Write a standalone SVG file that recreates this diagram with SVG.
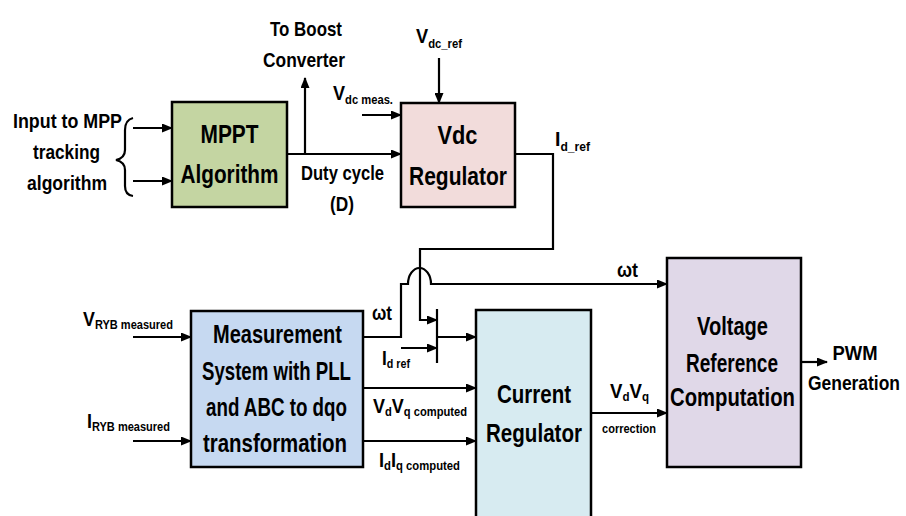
<svg xmlns="http://www.w3.org/2000/svg" width="906" height="516" viewBox="0 0 906 516">
<style>
text{font-family:"Liberation Sans",Arial,sans-serif;font-weight:bold;fill:#000}
.box{stroke:#000;stroke-width:2.5}
.big{font-size:25px;text-anchor:middle}
.lbl{font-size:21px}
.sub{font-size:13px}
.ln{fill:none;stroke:#000;stroke-width:2.2}
.ar{marker-end:url(#ah)}
</style>
<defs>
<marker id="ah" markerUnits="userSpaceOnUse" markerWidth="11" markerHeight="9" refX="10" refY="4.5" orient="auto">
<path d="M0,0 L11,4.5 L0,9 z" fill="#000"/>
</marker>
</defs>
<rect width="906" height="516" fill="#fff"/>

<g id="connectors">
<line class="ln ar" x1="133" y1="128" x2="172" y2="128"/>
<line class="ln ar" x1="133" y1="181" x2="172" y2="181"/>
<path class="ln" d="M133,118 Q125,120 125,130 V150 Q125,158 116,160 Q125,162 125,170 V186 Q125,195 133,196"/>
<line class="ln ar" x1="287" y1="154" x2="401" y2="154"/>
<line class="ln ar" x1="305" y1="154" x2="305" y2="78"/>
<line class="ln ar" x1="362" y1="115" x2="401" y2="115"/>
<line class="ln ar" x1="439" y1="58" x2="439" y2="103"/>
<path class="ln ar" d="M515,154 H553 V249 H420 V320 H437"/>
<path class="ln ar" d="M363,337 H401 V284 H408 A11.5,16 0 0 1 431,284 H667"/>
<line class="ln ar" x1="401" y1="348" x2="437" y2="348"/>
<line class="ln" x1="437" y1="309" x2="437" y2="363"/>
<line class="ln ar" x1="437" y1="337" x2="476" y2="337"/>
<line class="ln ar" x1="363" y1="388" x2="476" y2="388"/>
<line class="ln ar" x1="363" y1="441" x2="476" y2="441"/>
<line class="ln ar" x1="133" y1="337" x2="191" y2="337"/>
<line class="ln ar" x1="133" y1="441" x2="191" y2="441"/>
<line class="ln ar" x1="591" y1="413" x2="667" y2="413"/>
<line class="ln ar" x1="801" y1="362" x2="827" y2="362"/>
</g>

<g id="mppt">
<rect class="box" x="172" y="102" width="115" height="105" fill="#c4d5a2"/>
<text class="big" x="229.5" y="143" textLength="58" lengthAdjust="spacingAndGlyphs">MPPT</text>
<text class="big" x="229.5" y="183" textLength="98" lengthAdjust="spacingAndGlyphs">Algorithm</text>
</g>

<g id="vdc">
<rect class="box" x="401" y="103" width="114" height="104" fill="#f2dcdb"/>
<text class="big" x="457.5" y="144" textLength="40" lengthAdjust="spacingAndGlyphs">Vdc</text>
<text class="big" x="458" y="185" textLength="98" lengthAdjust="spacingAndGlyphs">Regulator</text>
</g>

<g id="measurement">
<rect class="box" x="191" y="311" width="172" height="156" fill="#c6d9f1"/>
<text class="big" x="277.5" y="343" textLength="129" lengthAdjust="spacingAndGlyphs">Measurement</text>
<text class="big" x="276.5" y="380" textLength="149" lengthAdjust="spacingAndGlyphs">System with PLL</text>
<text class="big" x="276.5" y="416" textLength="141" lengthAdjust="spacingAndGlyphs">and ABC to dqo</text>
<text class="big" x="275" y="452" textLength="144" lengthAdjust="spacingAndGlyphs">transformation</text>
</g>

<g id="current">
<path class="box" d="M476,520 V310 H591 V520" fill="#d7ebf1"/>
<text class="big" x="534" y="403" textLength="74" lengthAdjust="spacingAndGlyphs">Current</text>
<text class="big" x="534" y="442" textLength="96" lengthAdjust="spacingAndGlyphs">Regulator</text>
</g>

<g id="voltage">
<rect class="box" x="667" y="258" width="134" height="209" fill="#e0d8e8"/>
<text class="big" x="732.5" y="335" textLength="71" lengthAdjust="spacingAndGlyphs">Voltage</text>
<text class="big" x="732" y="372" textLength="92" lengthAdjust="spacingAndGlyphs">Reference</text>
<text class="big" x="732.5" y="406" textLength="125" lengthAdjust="spacingAndGlyphs">Computation</text>
</g>

<g id="labels">
<text class="lbl" x="67.5" y="128" text-anchor="middle" textLength="109" lengthAdjust="spacingAndGlyphs">Input to MPP</text>
<text class="lbl" x="66.5" y="159" text-anchor="middle" textLength="67" lengthAdjust="spacingAndGlyphs">tracking</text>
<text class="lbl" x="67" y="190" text-anchor="middle" textLength="80" lengthAdjust="spacingAndGlyphs">algorithm</text>
<text class="lbl" x="306" y="36" text-anchor="middle" textLength="72" lengthAdjust="spacingAndGlyphs">To Boost</text>
<text class="lbl" x="304" y="67" text-anchor="middle" textLength="82" lengthAdjust="spacingAndGlyphs">Converter</text>
<text class="lbl" x="416" y="43" textLength="46" lengthAdjust="spacingAndGlyphs">V<tspan class="sub" dy="5">dc_ref</tspan></text>
<text class="lbl" x="333" y="100" textLength="60" lengthAdjust="spacingAndGlyphs">V<tspan class="sub" dy="4">dc meas.</tspan></text>
<text class="lbl" x="342.5" y="180" text-anchor="middle" textLength="83" lengthAdjust="spacingAndGlyphs">Duty cycle</text>
<text class="lbl" x="342" y="211" text-anchor="middle" textLength="24" lengthAdjust="spacingAndGlyphs">(D)</text>
<text class="lbl" x="555" y="146" textLength="35" lengthAdjust="spacingAndGlyphs">I<tspan class="sub" dy="5">d_ref</tspan></text>
<text class="lbl" x="83" y="326" textLength="90" lengthAdjust="spacingAndGlyphs">V<tspan class="sub" dy="3">RYB measured</tspan></text>
<text class="lbl" x="87" y="428" textLength="83" lengthAdjust="spacingAndGlyphs">I<tspan class="sub" dy="3">RYB measured</tspan></text>
<text class="lbl" x="372" y="320" textLength="20" lengthAdjust="spacingAndGlyphs">ωt</text>
<text class="lbl" x="617" y="277" textLength="21" lengthAdjust="spacingAndGlyphs">ωt</text>
<text class="lbl" x="382" y="365" textLength="28" lengthAdjust="spacingAndGlyphs">I<tspan class="sub" dy="3">d ref</tspan></text>
<text class="lbl" x="373" y="413" textLength="94" lengthAdjust="spacingAndGlyphs">V<tspan class="sub" dy="3">d</tspan><tspan dy="-3">V</tspan><tspan class="sub" dy="3">q computed</tspan></text>
<text class="lbl" x="379" y="467" textLength="81" lengthAdjust="spacingAndGlyphs">I<tspan class="sub" dy="3">d</tspan><tspan dy="-3">I</tspan><tspan class="sub" dy="3">q computed</tspan></text>
<text class="lbl" x="610" y="398" textLength="39" lengthAdjust="spacingAndGlyphs">V<tspan class="sub" dy="3">d</tspan><tspan dy="-3">V</tspan><tspan class="sub" dy="3">q</tspan></text>
<text x="629" y="433" font-size="13.5" text-anchor="middle" textLength="54" lengthAdjust="spacingAndGlyphs">correction</text>
<text class="lbl" x="855" y="360" text-anchor="middle" textLength="45" lengthAdjust="spacingAndGlyphs">PWM</text>
<text class="lbl" x="854" y="390" text-anchor="middle" textLength="92" lengthAdjust="spacingAndGlyphs">Generation</text>
</g>
</svg>
